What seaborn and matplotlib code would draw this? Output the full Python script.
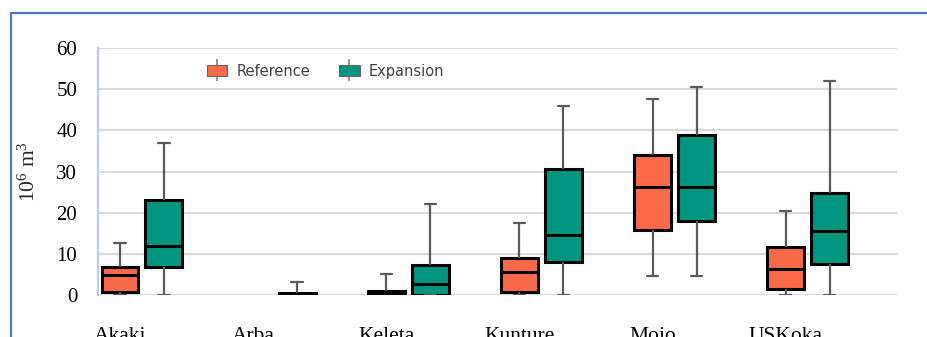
import numpy as np
import pandas as pd
import matplotlib
matplotlib.use("Agg")
import matplotlib.pyplot as plt
from matplotlib.patches import Rectangle, Patch
from matplotlib.lines import Line2D
from matplotlib.legend_handler import HandlerTuple
import seaborn as sns

# Sites and scenarios
sites = ["Akaki", "Arba", "Keleta", "Kunture", "Mojo", "USKoka"]
scenarios = ["Reference", "Expansion"]

# Five-number summaries (10^6 m3) per site: min, Q1, median, Q3, max
ref_min = [0.0, np.nan, 0.0, 0.0, 4.6, 0.0]
ref_q1 = [0.7, np.nan, 0.0, 0.7, 15.9, 1.5]
ref_med = [4.8, np.nan, 0.4, 5.6, 26.2, 6.4]
ref_q3 = [6.9, np.nan, 1.0, 9.0, 33.9, 11.7]
ref_max = [12.7, np.nan, 5.1, 17.6, 47.7, 20.4]

exp_min = [0.0, 0.0, 0.0, 0.0, 4.6, 0.0]
exp_q1 = [6.9, 0.0, 0.0, 7.9, 18.0, 7.5]
exp_med = [12.0, 0.2, 2.7, 14.6, 26.2, 15.5]
exp_q3 = [23.0, 0.6, 7.2, 30.6, 38.8, 24.8]
exp_max = [36.9, 3.2, 22.2, 45.8, 50.5, 52.0]

y_ticks = [0, 10, 20, 30, 40, 50, 60]

# Long table: five values per box reproduce the quartiles exactly
rows = []
for scen, parts in (("Reference", (ref_min, ref_q1, ref_med, ref_q3, ref_max)),
                    ("Expansion", (exp_min, exp_q1, exp_med, exp_q3, exp_max))):
    for i, site in enumerate(sites):
        for arr in parts:
            if not np.isnan(arr[i]):
                rows.append({"site": site, "scenario": scen, "value": arr[i]})
df = pd.DataFrame(rows)

sns.set_theme(style="white")
plt.rcParams["font.family"] = ["Liberation Serif", "DejaVu Serif"]
plt.rcParams["mathtext.fontset"] = "custom"
plt.rcParams["mathtext.rm"] = "Liberation Serif"
plt.rcParams["mathtext.it"] = "Liberation Serif:italic"

fig = plt.figure(figsize=(9.28, 3.37), dpi=100)
ax = fig.add_axes([98 / 928, 1 - 295 / 337, (897 - 98) / 928, (295 - 48) / 337])

palette = {"Reference": "#F96A4B", "Expansion": "#00957F"}
whisker_grey = "#5A5A5A"
sns.boxplot(
    data=df, x="site", y="value", hue="scenario", order=sites,
    hue_order=scenarios, palette=palette, whis=np.inf, width=0.66,
    gap=0.16, linewidth=2.2, linecolor="black", saturation=1, ax=ax,
    whiskerprops={"color": whisker_grey, "linewidth": 1.6},
    capprops={"color": whisker_grey, "linewidth": 1.6},
    medianprops={"color": "black", "linewidth": 2.2},
    boxprops={"edgecolor": "black", "linewidth": 2.2},
    legend=False, capwidths=0.085,
)

ax.set_ylim(0, 60)
ax.set_xlim(-0.33, 5.67)
ax.set_yticks(y_ticks)
ax.yaxis.grid(True, color="#D9D9D9", linewidth=1.5, zorder=0)
ax.set_axisbelow(True)
for s in ["top", "right", "bottom"]:
    ax.spines[s].set_visible(False)
ax.spines["left"].set_color("#B8CCE4")
ax.spines["left"].set_linewidth(1.5)

# category labels sit under the Reference box
ax.set_xticks(np.arange(len(sites)) - 0.165)
ax.set_xticklabels(sites)
ax.tick_params(axis="x", length=0, pad=23, labelsize=15.5, labelcolor="black")
ax.tick_params(axis="y", length=0, pad=15, labelsize=15, labelcolor="black")
ax.set_xlabel("")
ax.set_ylabel(r"$10^6$ m$^3$", fontsize=15.5, labelpad=12)

# legend keys: small box with a whisker line through it
handles = [
    (Line2D([], [], color="#8A8A8A", marker="|", markersize=16, markeredgewidth=1.3,
            linestyle="None"),
     Patch(facecolor=palette[s], edgecolor="#666666", linewidth=0.8))
    for s in scenarios
]
leg = ax.legend(handles, scenarios, loc="upper left", bbox_to_anchor=(0.12, 0.99),
                ncol=2, frameon=False, handlelength=1.4, handleheight=0.8,
                columnspacing=2.0, handletextpad=0.6,
                handler_map={tuple: HandlerTuple(ndivide=1)},
                prop={"family": "DejaVu Sans", "size": 10.5})
for t in leg.get_texts():
    t.set_color("#404040")

# outer chart frame
fig.patches.append(Rectangle((11 / 928, -0.1), 1.2, 1 - 13 / 337 + 0.1,
                             transform=fig.transFigure, fill=False,
                             edgecolor="#4F7CC4", linewidth=1.6))

fig.savefig("out.png", dpi=100, facecolor="white")
